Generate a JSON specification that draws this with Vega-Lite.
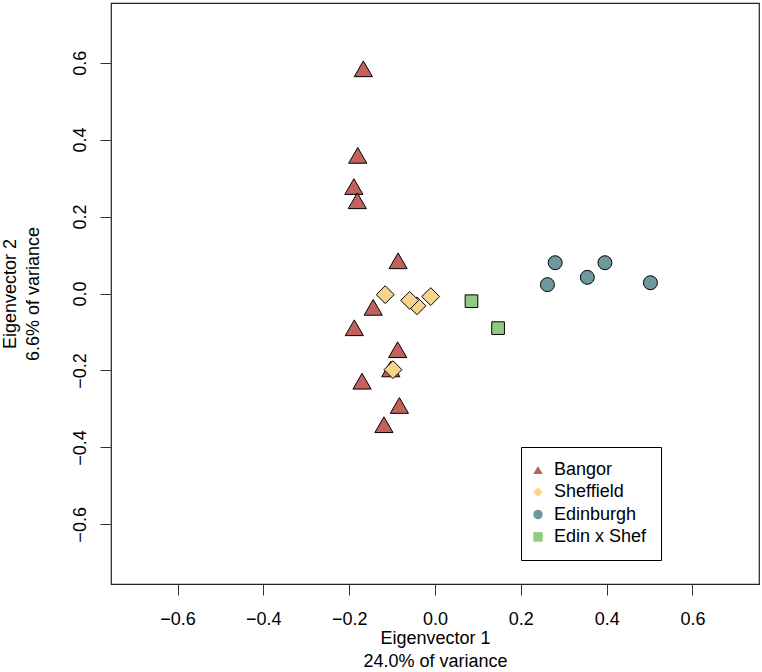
{
  "$schema": "https://vega.github.io/schema/vega-lite/v6.json",
  "autosize": {"type": "none"},
  "width": 648,
  "height": 581,
  "padding": {"left": 111, "top": 3, "right": 3, "bottom": 88},
  "background": "white",
  "config": {
    "font": "Liberation Sans",
    "view": {"stroke": "#222", "strokeWidth": 1.2},
    "axis": {
      "grid": false,
      "domain": false,
      "tickColor": "#333",
      "tickSize": 11,
      "tickWidth": 1,
      "labelFont": "Liberation Sans",
      "labelFontSize": 18,
      "labelColor": "black",
      "titleFont": "Liberation Sans",
      "titleFontSize": 18,
      "titleFontWeight": "normal",
      "titleColor": "black",
      "titleLineHeight": 23
    },
    "legend": {
      "title": null,
      "orient": "none",
      "legendX": 410,
      "legendY": 444,
      "padding": 14,
      "strokeColor": "black",
      "fillColor": "white",
      "labelFontSize": 18,
      "labelFont": "Liberation Sans",
      "labelColor": "black",
      "symbolSize": 90,
      "symbolStrokeColor": "black",
      "symbolStrokeWidth": 1,
      "symbolOpacity": 1,
      "symbolOffset": -6,
      "rowPadding": 4.3,
      "labelOffset": 7
    }
  },
  "data": {
    "values": [
      {"x": -0.167, "y": 0.584, "group": "Bangor"},
      {"x": -0.180, "y": 0.359, "group": "Bangor"},
      {"x": -0.189, "y": 0.278, "group": "Bangor"},
      {"x": -0.181, "y": 0.241, "group": "Bangor"},
      {"x": -0.086, "y": 0.085, "group": "Bangor"},
      {"x": -0.144, "y": -0.036, "group": "Bangor"},
      {"x": -0.188, "y": -0.089, "group": "Bangor"},
      {"x": -0.087, "y": -0.146, "group": "Bangor"},
      {"x": -0.103, "y": -0.196, "group": "Bangor"},
      {"x": -0.170, "y": -0.228, "group": "Bangor"},
      {"x": -0.083, "y": -0.291, "group": "Bangor"},
      {"x": -0.119, "y": -0.341, "group": "Bangor"},
      {"x": -0.116, "y": -0.003, "group": "Sheffield"},
      {"x": -0.042, "y": -0.032, "group": "Sheffield"},
      {"x": -0.059, "y": -0.018, "group": "Sheffield"},
      {"x": -0.010, "y": -0.008, "group": "Sheffield"},
      {"x": -0.098, "y": -0.198, "group": "Sheffield"},
      {"x": 0.280, "y": 0.080, "group": "Edinburgh"},
      {"x": 0.262, "y": 0.023, "group": "Edinburgh"},
      {"x": 0.355, "y": 0.042, "group": "Edinburgh"},
      {"x": 0.396, "y": 0.080, "group": "Edinburgh"},
      {"x": 0.502, "y": 0.028, "group": "Edinburgh"},
      {"x": 0.085, "y": -0.020, "group": "Edin x Shef"},
      {"x": 0.147, "y": -0.090, "group": "Edin x Shef"}
    ]
  },
  "encoding": {
    "x": {
      "field": "x", "type": "quantitative",
      "scale": {"domain": [-0.755, 0.755], "nice": false, "zero": false},
      "axis": {"values": [-0.6, -0.4, -0.2, 0, 0.2, 0.4, 0.6], "format": ".1f", "labelPadding": 15, "title": ["Eigenvector 1", "24.0% of variance"], "titleBaseline": "alphabetic", "titleAlign": "center", "titleX": 324, "titleY": 59}
    },
    "y": {
      "field": "y", "type": "quantitative",
      "scale": {"domain": [-0.755, 0.755], "nice": false, "zero": false},
      "axis": {"values": [-0.6, -0.4, -0.2, 0, 0.2, 0.4, 0.6], "format": ".1f", "labelAngle": -90, "labelAlign": "center", "labelBaseline": "bottom", "labelPadding": 11, "title": ["Eigenvector 2", "6.6% of variance"], "titleAngle": -90, "titleBaseline": "alphabetic", "titleAlign": "center", "titleX": -96, "titleY": 290.5}
    },
    "color": {
      "field": "group", "type": "nominal",
      "scale": {"domain": ["Bangor", "Sheffield", "Edinburgh", "Edin x Shef"], "range": ["#C1625F", "#F7D38B", "#6E989D", "#90CC80"]}
    },
    "shape": {
      "field": "group", "type": "nominal",
      "scale": {"domain": ["Bangor", "Sheffield", "Edinburgh", "Edin x Shef"], "range": ["triangle-up", "diamond", "circle", "square"]}
    }
  },
  "layer": [
    {
      "transform": [{"filter": "datum.group === 'Bangor'"}],
      "mark": {"type": "point", "filled": true, "stroke": "black", "strokeWidth": 1, "opacity": 1, "size": 330}
    },
    {
      "transform": [{"filter": "datum.group === 'Sheffield'"}],
      "mark": {"type": "point", "filled": true, "stroke": "black", "strokeWidth": 1, "opacity": 1, "size": 320}
    },
    {
      "transform": [{"filter": "datum.group === 'Edinburgh'"}],
      "mark": {"type": "point", "filled": true, "stroke": "black", "strokeWidth": 1, "opacity": 1, "size": 195}
    },
    {
      "transform": [{"filter": "datum.group === 'Edin x Shef'"}],
      "mark": {"type": "point", "filled": true, "stroke": "black", "strokeWidth": 1, "opacity": 1, "size": 160}
    }
  ]
}
